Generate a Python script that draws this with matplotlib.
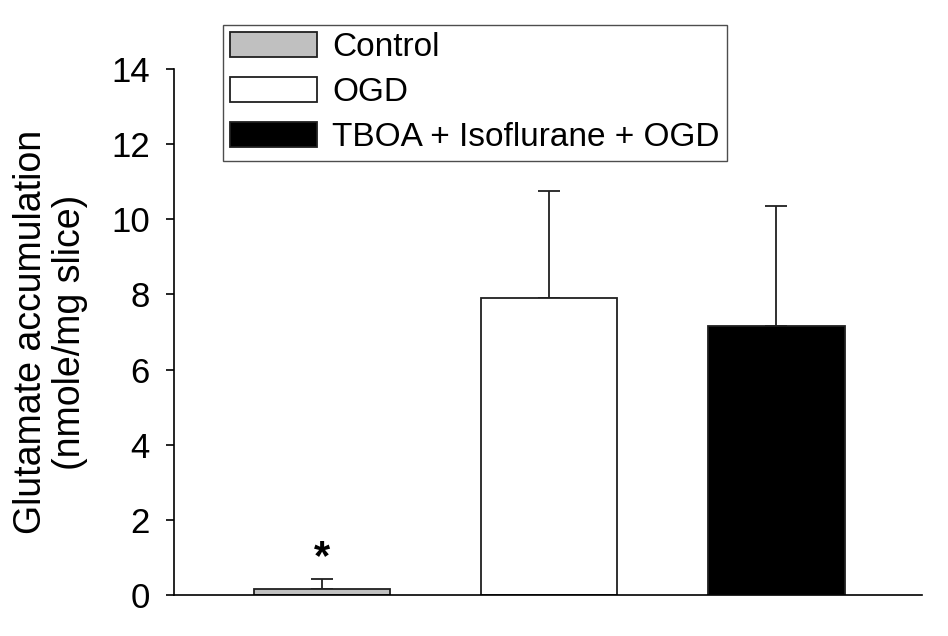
import matplotlib.pyplot as plt
import numpy as np

plt.rcParams['font.family'] = ['Liberation Sans', 'DejaVu Sans']

groups = ["Control", "OGD", "TBOA + Isoflurane + OGD"]
means = [0.16, 7.9, 7.15]
errs = [0.27, 2.85, 3.2]
colors = ["#c0c0c0", "white", "black"]

fig = plt.figure(figsize=(9.48, 6.36), dpi=100)
ax = fig.add_axes([0.1835, 0.0645, 0.789, 0.827])

x = np.arange(len(groups))
bars = ax.bar(x, means, width=0.6, color=colors, edgecolor="#202020",
              linewidth=1.3, label=groups, zorder=2)
ax.errorbar(x, means, yerr=[np.zeros(len(errs)), errs], fmt="none",
            ecolor="#202020", elinewidth=1.3, capsize=8, capthick=1.3, zorder=1)

# significance marker
ax.text(x[0], means[0] + errs[0] + 0.55, "*", ha="center", va="center",
        fontsize=30, fontweight="bold")

ax.set_xlim(-0.65, 2.64)
ax.set_ylim(0, 14)
ax.set_yticks(np.arange(0, 15, 2))
ax.set_xticks([])
ax.spines["top"].set_visible(False)
ax.spines["right"].set_visible(False)
ax.spines["left"].set_linewidth(1.2)
ax.spines["bottom"].set_linewidth(1.2)
ax.tick_params(axis="y", direction="out", length=5.5, width=1.2, labelsize=25, pad=12)
ax.set_ylabel("Glutamate accumulation\n(nmole/mg slice)", fontsize=27, linespacing=1.1)
ax.yaxis.set_label_coords(-0.115, 0.5)

leg = ax.legend(handles=bars, labels=groups, loc="upper left",
                bbox_to_anchor=(223 / 948, 1 - 25 / 636), bbox_transform=fig.transFigure,
                fontsize=24, frameon=True, fancybox=False, edgecolor="#202020",
                handlelength=2.6, handleheight=0.75, labelspacing=0.42,
                borderpad=0.22, handletextpad=0.45, borderaxespad=0)
leg.get_frame().set_linewidth(1.0)

fig.savefig("out.png", dpi=100)
